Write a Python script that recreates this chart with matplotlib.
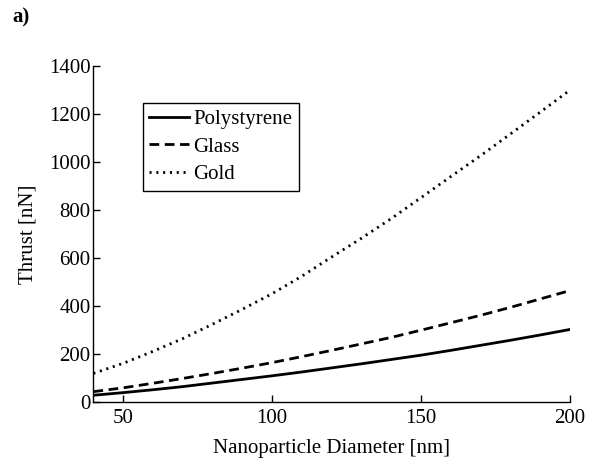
import matplotlib
matplotlib.use("Agg")
import matplotlib.pyplot as plt

# ── Data ───────────────────────────────────────────────────────────────────
diameter    = [40, 50, 60, 70, 80, 90, 100, 110, 120, 130, 140, 150, 160, 170, 180, 190, 200]
polystyrene = [29, 40, 52, 65, 80, 95, 110, 126, 143, 160, 178, 196, 216, 237, 258, 280, 303]
glass       = [44, 60, 79, 99, 120, 142, 165, 190, 216, 243, 270, 300, 331, 362, 395, 430, 465]
gold        = [120, 162, 212, 265, 325, 387, 452, 525, 605, 683, 765, 852, 940, 1027, 1117, 1208, 1300]

x_ticks = [50, 100, 150, 200]
y_ticks = [0, 200, 400, 600, 800, 1000, 1200, 1400]

plt.rcParams["font.family"] = ["Liberation Serif", "DejaVu Serif"]
FS = 15

fig = plt.figure(figsize=(5.95, 4.65), dpi=100)
ax = fig.add_axes([0.157, 0.135, 0.801, 0.723])

ax.plot(diameter, polystyrene, color="black", lw=2.0, label="Polystyrene")
ax.plot(diameter, glass, color="black", lw=2.0, dashes=(3.5, 2.0), label="Glass")
ax.plot(diameter, gold, color="black", lw=2.0, dashes=(0.75, 1.7), label="Gold")

ax.set_xlim(40, 200)
ax.set_ylim(0, 1400)
ax.set_xticks(x_ticks)
ax.set_yticks(y_ticks)
ax.tick_params(direction="in", length=5, width=1, labelsize=FS)
ax.tick_params(axis="y", pad=2)
ax.tick_params(axis="x", pad=5)
for side in ("top", "right"):
    ax.spines[side].set_visible(False)
for side in ("left", "bottom"):
    ax.spines[side].set_linewidth(1.0)

ax.set_xlabel("Nanoparticle Diameter [nm]", fontsize=FS, labelpad=8)
ax.set_ylabel("Thrust [nN]", fontsize=FS, labelpad=8)

leg = ax.legend(loc="upper left", bbox_to_anchor=(0.103, 0.89), fontsize=FS,
                handlelength=1.9, handletextpad=0.2, borderpad=0.32,
                labelspacing=0.37, borderaxespad=0, fancybox=False,
                edgecolor="black", framealpha=1)
leg.get_frame().set_linewidth(1.0)

fig.text(0.02, 0.963, "a)", fontsize=FS, fontweight="bold", va="center")

fig.savefig("out.png", dpi=100, facecolor="white")
